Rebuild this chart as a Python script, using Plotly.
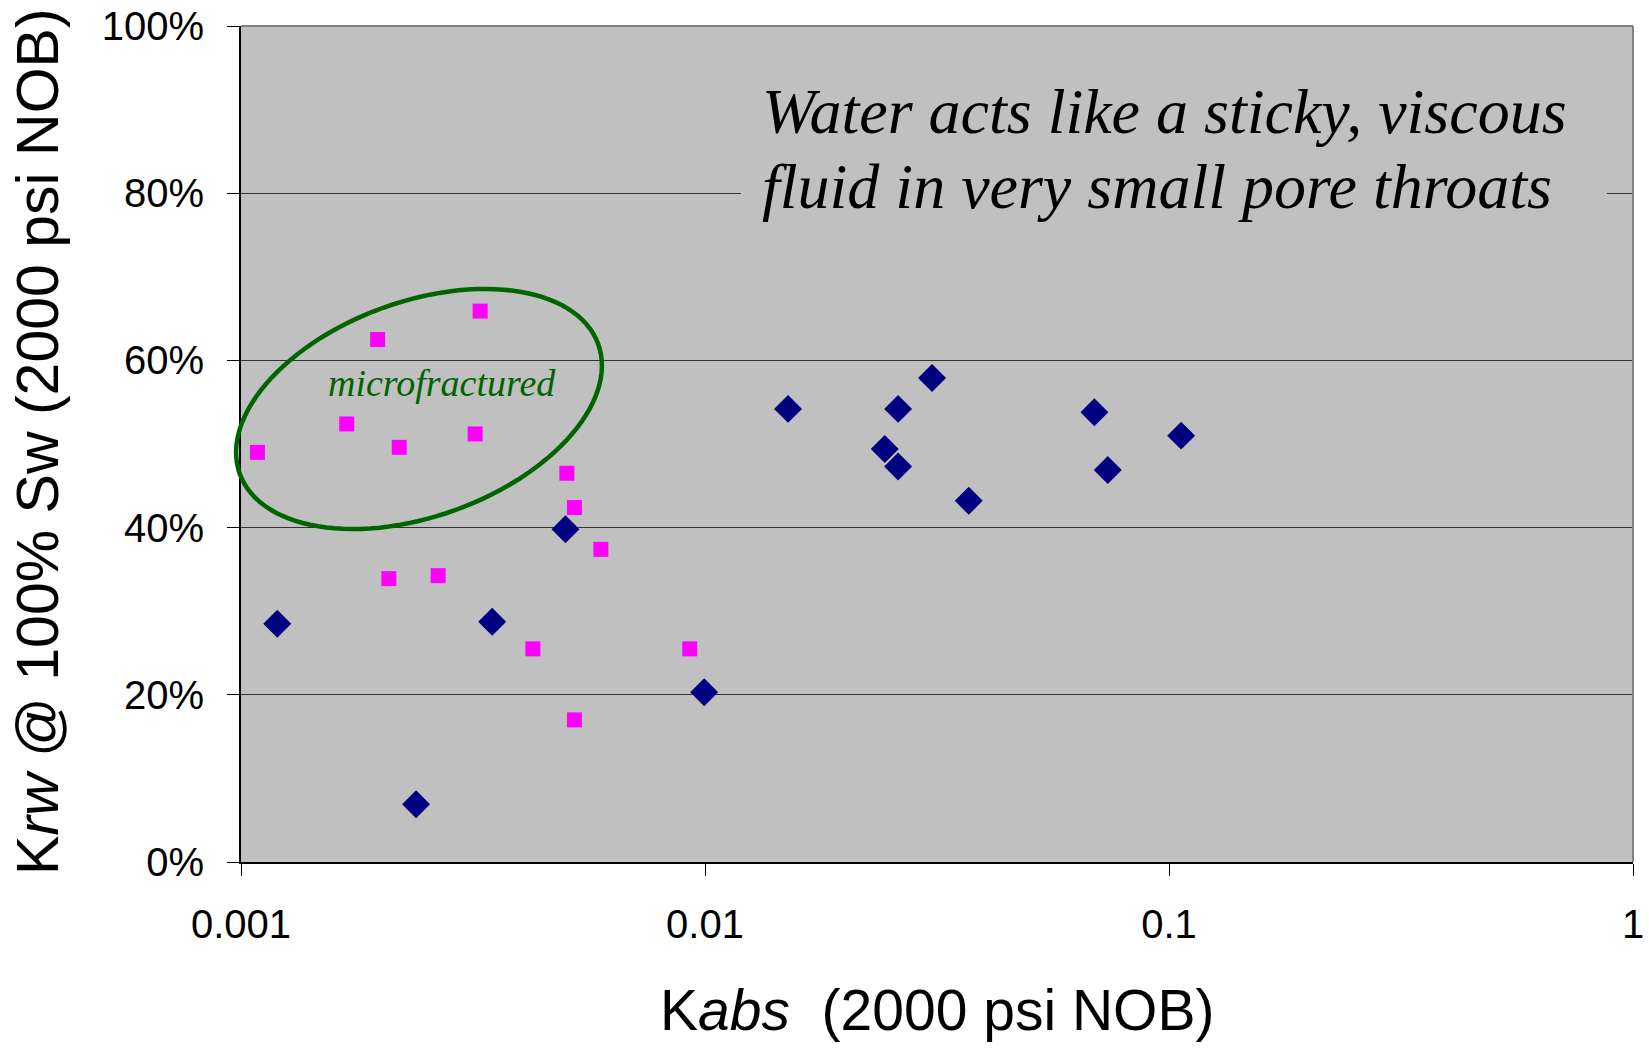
import numpy as np
import plotly.graph_objects as go

# ---- data ----
diamond_x = [0.001197, 0.002384, 0.003478, 0.005004, 0.00996, 0.0151, 0.0244,
             0.02607, 0.02607, 0.03086, 0.03702, 0.06906, 0.0738, 0.1062]
diamond_y = [28.5, 6.9, 28.75, 39.8, 20.3, 54.2, 49.4,
             54.2, 47.3, 57.9, 43.2, 53.8, 46.9, 51.0]

square_x = [0.001085, 0.00169, 0.00197, 0.002083, 0.002193, 0.00266, 0.003196,
            0.003276, 0.004256, 0.005039, 0.005231, 0.005231, 0.005964, 0.00927]
square_y = [49.0, 52.4, 62.5, 33.9, 49.6, 34.25, 51.2,
            65.9, 25.5, 46.5, 42.4, 17.0, 37.4, 25.5]

x_tickvals = [0.001, 0.01, 0.1, 1]
x_ticktext = ["0.001", "0.01", "0.1", "1"]
y_tickvals = [0, 20, 40, 60, 80, 100]
y_ticktext = ["0%", "20%", "40%", "60%", "80%", "100%"]

# ---- layout geometry (pixels) ----
W, H = 1649, 1049
L, R, T, B = 241, 1633, 26, 862
PW, PH = R - L, B - T


def px2paper(px, py):
    return (px - L) / PW, (B - py) / PH


SANS = "Liberation Sans, Arial, sans-serif"
SERIF = "Liberation Serif, Times New Roman, serif"
GREEN = "#006400"

fig = go.Figure()
fig.add_trace(go.Scatter(
    x=diamond_x, y=diamond_y, mode="markers",
    marker=dict(symbol="diamond", size=21.5, color="#000080", line=dict(width=0)),
    showlegend=False))
fig.add_trace(go.Scatter(
    x=square_x, y=square_y, mode="markers",
    marker=dict(symbol="square", size=15, color="#FF00FF", line=dict(width=0)),
    showlegend=False))

# ellipse around microfractured samples (pixel geometry -> paper)
cx, cy, a, b, th = 419, 409, 190.6, 107.4, np.deg2rad(19.9)
t = np.linspace(0, 2 * np.pi, 121)
ex = cx + a * np.cos(t) * np.cos(th) + b * np.sin(t) * np.sin(th)
ey = cy - a * np.cos(t) * np.sin(th) + b * np.sin(t) * np.cos(th)
pts = [px2paper(u, v) for u, v in zip(ex, ey)]
path = "M " + " L ".join(f"{u:.5f},{v:.5f}" for u, v in pts) + " Z"

shapes = [
    dict(type="path", xref="paper", yref="paper", path=path,
         line=dict(color=GREEN, width=4.5), layer="above"),
    # top and right gray border
    dict(type="line", xref="paper", yref="paper", x0=0, x1=1, y0=1, y1=1,
         line=dict(color="#808080", width=2)),
    dict(type="line", xref="paper", yref="paper", x0=1, x1=1, y0=0, y1=1,
         line=dict(color="#808080", width=2)),
]
# background box behind the big note (hides the gridline)
bx0, by0 = px2paper(741, 228)
bx1, by1 = px2paper(1607, 60)
shapes.append(dict(type="rect", xref="paper", yref="paper", x0=bx0, x1=bx1,
                   y0=by0, y1=by1, fillcolor="#C0C0C0", line=dict(width=0),
                   layer="above"))

annotations = []
nx, _ = px2paper(760, 0)
for txt, yy in [("Water acts like a sticky, viscous", 111),
                ("fluid in very small pore throats", 186)]:
    _, ny = px2paper(0, yy)
    annotations.append(dict(text=txt, xref="paper", yref="paper", x=nx, y=ny,
                            xanchor="left", yanchor="middle", showarrow=False,
                            font=dict(family=SERIF, size=64, color="black",
                                      style="italic")))
mx, my = px2paper(441.5, 383)
annotations.append(dict(text="microfractured", xref="paper", yref="paper",
                        x=mx, y=my, xanchor="center", yanchor="middle",
                        showarrow=False,
                        font=dict(family=SERIF, size=38, color=GREEN,
                                  style="italic")))
tx, ty = px2paper(937, 1010)
annotations.append(dict(text="K<i>abs</i>  (2000 psi NOB)", xref="paper",
                        yref="paper", x=tx, y=ty, xanchor="center",
                        yanchor="middle", showarrow=False,
                        font=dict(family=SANS, size=57, color="black")))
yx, yy = px2paper(38, 442)
annotations.append(dict(text="K<i>rw</i> @ 100% Sw (2000 psi NOB)",
                        xref="paper", yref="paper", x=yx, y=yy,
                        xanchor="center", yanchor="middle", textangle=-90,
                        showarrow=False,
                        font=dict(family=SANS, size=59, color="black")))

fig.update_layout(
    width=W, height=H,
    margin=dict(l=L, r=W - R, t=T, b=H - B, pad=0, autoexpand=False),
    paper_bgcolor="white", plot_bgcolor="#C0C0C0",
    shapes=shapes, annotations=annotations,
    xaxis=dict(type="log", range=[-3, 0], tickmode="array",
               tickvals=x_tickvals, ticktext=x_ticktext, automargin=False,
               ticks="outside", ticklen=12,
               tickcolor="black", tickwidth=1, showgrid=False,
               showline=True, linecolor="black", linewidth=2,
               zeroline=False, ticklabelstandoff=14,
               tickfont=dict(family=SANS, size=40, color="black")),
    yaxis=dict(range=[0, 100], tickmode="array", tickvals=y_tickvals,
               ticktext=y_ticktext, automargin=False,
               ticks="outside", ticklen=12, tickcolor="black", tickwidth=1,
               showgrid=True, gridcolor="#333333", gridwidth=1,
               showline=True, linecolor="black", linewidth=2,
               zeroline=False, ticklabelstandoff=15,
               tickfont=dict(family=SANS, size=40, color="black")),
)

fig.write_html("out.html")
